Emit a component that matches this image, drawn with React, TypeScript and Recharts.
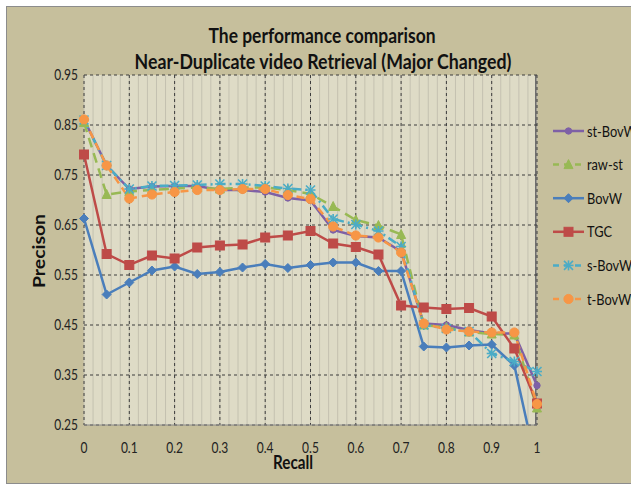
import React from 'react';
import { LineChart, Line, XAxis, YAxis, CartesianGrid } from 'recharts';

const recall = [0, 0.05, 0.1, 0.15, 0.2, 0.25, 0.3, 0.35, 0.4, 0.45, 0.5, 0.55, 0.6, 0.65, 0.7, 0.75, 0.8, 0.85, 0.9, 0.95, 1];
const stBovW = [0.861, 0.769, 0.722, 0.727, 0.728, 0.728, 0.72, 0.72, 0.716, 0.704, 0.699, 0.64, 0.628, 0.625, 0.597, 0.453, 0.45, 0.44, 0.433, 0.433, 0.329];
const rawSt = [0.855, 0.711, 0.717, 0.72, 0.723, 0.725, 0.722, 0.725, 0.725, 0.72, 0.712, 0.687, 0.66, 0.649, 0.631, 0.45, 0.445, 0.436, 0.432, 0.43, 0.284];
const bovw = [0.663, 0.511, 0.535, 0.559, 0.567, 0.552, 0.556, 0.565, 0.572, 0.564, 0.57, 0.575, 0.575, 0.558, 0.558, 0.407, 0.405, 0.409, 0.411, 0.369, 0.164];
const tgc = [0.791, 0.592, 0.57, 0.589, 0.583, 0.605, 0.609, 0.611, 0.625, 0.629, 0.638, 0.613, 0.606, 0.591, 0.489, 0.485, 0.482, 0.484, 0.467, 0.403, 0.293];
const sBovW = [0.86, 0.769, 0.722, 0.728, 0.729, 0.73, 0.732, 0.732, 0.728, 0.723, 0.72, 0.662, 0.651, 0.638, 0.607, 0.45, 0.443, 0.437, 0.393, 0.377, 0.357];
const tBovW = [0.861, 0.769, 0.703, 0.711, 0.716, 0.72, 0.72, 0.722, 0.722, 0.71, 0.702, 0.647, 0.629, 0.625, 0.595, 0.453, 0.441, 0.437, 0.435, 0.435, 0.292];

const xTicks = [0, 0.1, 0.2, 0.3, 0.4, 0.5, 0.6, 0.7, 0.8, 0.9, 1];
const yTicks = [0.25, 0.35, 0.45, 0.55, 0.65, 0.75, 0.85, 0.95];
const minorX = Array.from({ length: 51 }, (_, i) => i * 0.02);

const title1 = 'The performance comparison';
const title2 = 'Near-Duplicate video Retrieval (Major Changed)';
const xLabel = 'Recall';
const yLabel = 'Precison';

const series = [
  { key: 'stBovW', name: 'st-BovW', values: stBovW, color: '#7E60A6', dash: undefined, marker: 'circle' },
  { key: 'rawSt', name: 'raw-st', values: rawSt, color: '#98B954', dash: '10 6', marker: 'triangle' },
  { key: 'bovw', name: 'BovW', values: bovw, color: '#4A7EBB', dash: undefined, marker: 'diamond' },
  { key: 'tgc', name: 'TGC', values: tgc, color: '#BE4B48', dash: undefined, marker: 'square' },
  { key: 'sBovW', name: 's-BovW', values: sBovW, color: '#4BACC6', dash: '9 4 2 4', marker: 'asterisk' },
  { key: 'tBovW', name: 't-BovW', values: tBovW, color: '#F79646', dash: '8 5', marker: 'bigcircle' },
];

const data = recall.map((r, i) => {
  const row: any = { recall: r };
  series.forEach((s) => { row[s.key] = s.values[i]; });
  return row;
});

const FONT = 'Lato, "Noto Sans", sans-serif';
const SQ = 0.8;

function markerShape(shape: string, cx: number, cy: number, color: string, k?: any) {
  switch (shape) {
    case 'circle':
      return <circle key={k} cx={cx} cy={cy} r={3.2} fill={color} stroke={color} />;
    case 'bigcircle':
      return <circle key={k} cx={cx} cy={cy} r={4.6} fill={color} stroke={color} />;
    case 'triangle':
      return <polygon key={k} points={`${cx},${cy - 5} ${cx - 4.5},${cy + 4} ${cx + 4.5},${cy + 4}`} fill={color} stroke={color} />;
    case 'diamond':
      return <polygon key={k} points={`${cx},${cy - 4.5} ${cx + 4.5},${cy} ${cx},${cy + 4.5} ${cx - 4.5},${cy}`} fill={color} stroke={color} />;
    case 'square':
      return <rect key={k} x={cx - 4.5} y={cy - 4.5} width={9} height={9} fill={color} stroke={color} />;
    case 'asterisk':
      return (
        <g key={k} stroke={color} strokeWidth={1.6}>
          <line x1={cx - 4.5} y1={cy - 4.5} x2={cx + 4.5} y2={cy + 4.5} />
          <line x1={cx - 4.5} y1={cy + 4.5} x2={cx + 4.5} y2={cy - 4.5} />
          <line x1={cx} y1={cy - 5} x2={cx} y2={cy + 5} />
          <line x1={cx - 5} y1={cy} x2={cx + 5} y2={cy} />
        </g>
      );
    default:
      return <g key={k} />;
  }
}

function XTick(props: any) {
  const { x, y, payload } = props;
  return (
    <text x={x} y={y} transform={`translate(${x},0) scale(${SQ},1) translate(${-x},0)`} textAnchor="middle" dy="0.71em" fontSize={15} fill="#222" fontFamily={FONT}>
      {String(payload.value)}
    </text>
  );
}

function YTick(props: any) {
  const { x, y, payload } = props;
  return (
    <text x={x} y={y} transform={`translate(${x},0) scale(${SQ},1) translate(${-x},0)`} textAnchor="end" dy="0.35em" fontSize={15} fill="#222" fontFamily={FONT}>
      {String(payload.value)}
    </text>
  );
}

const PLOT_L = 84;
const PLOT_T = 75;
const PLOT_R = 537;
const PLOT_B = 425;

export default function App() {
  return (
    <div style={{ position: 'absolute', left: 0, top: 0, width: 631, height: 484, overflow: 'hidden', fontFamily: FONT }}>
      <div style={{ position: 'absolute', left: 6, top: 6, width: 640, height: 476, background: '#C6BF9C', border: '1px solid #8C8C8C' }} />
      <div style={{ position: 'absolute', left: PLOT_L, top: PLOT_T, width: PLOT_R - PLOT_L, height: PLOT_B - PLOT_T, background: '#DEDBC6', borderRight: '2px solid #6E6E6E', boxSizing: 'border-box' }} />
      <svg width={631} height={484} style={{ position: 'absolute', left: 0, top: 0 }}>
        <text x={322} y={43} textAnchor="middle" fontSize={21} fontWeight="bold" fill="#111" fontFamily={FONT} textLength={227} lengthAdjust="spacingAndGlyphs">{title1}</text>
        <text x={323} y={69} textAnchor="middle" fontSize={21} fontWeight="bold" fill="#111" fontFamily={FONT} textLength={377} lengthAdjust="spacingAndGlyphs">{title2}</text>
        <text x={293} y={469} textAnchor="middle" fontSize={19} fontWeight="bold" fill="#111" fontFamily={FONT} textLength={40} lengthAdjust="spacingAndGlyphs">{xLabel}</text>
        <text x={0} y={0} transform="translate(45,251) rotate(-90)" textAnchor="middle" fontSize={17} fontWeight="bold" fill="#111" fontFamily={FONT} textLength={74} lengthAdjust="spacingAndGlyphs">{yLabel}</text>
      </svg>
      <div style={{ position: 'absolute', left: 0, top: 0 }}>
        <LineChart width={631} height={484} data={data} margin={{ top: PLOT_T, right: 631 - PLOT_R, bottom: 484 - PLOT_B - 30, left: 0 }}>
          <CartesianGrid
            horizontal={false}
            stroke="#C4C1B0"
            strokeWidth={1}
            verticalCoordinatesGenerator={({ offset }: any) => minorX.map((v) => offset.left + v * offset.width)}
          />
          <CartesianGrid stroke="#3C3C3C" strokeDasharray="3 3" strokeWidth={1} />
          <XAxis
            dataKey="recall"
            type="number"
            domain={[0, 1]}
            ticks={xTicks}
            height={30}
            tickSize={0}
            tickMargin={17}
            axisLine={{ stroke: '#8A8A8A' }}
            tick={<XTick />}
          />
          <YAxis
            type="number"
            domain={[0.25, 0.95]}
            allowDataOverflow
            ticks={yTicks}
            width={PLOT_L}
            tickSize={0}
            tickMargin={6}
            axisLine={false}
            tick={<YTick />}
          />
          {series.map((s) => (
            <Line
              key={s.key}
              dataKey={s.key}
              name={s.name}
              stroke={s.color}
              strokeWidth={2.5}
              strokeDasharray={s.dash}
              isAnimationActive={false}
              dot={(p: any) => markerShape(s.marker, p.cx, p.cy, s.color, `${s.key}-${p.index}`)}
              activeDot={false}
            />
          ))}
        </LineChart>
      </div>
      <svg width={100} height={220} style={{ position: 'absolute', left: 548, top: 110 }}>
        {series.map((s, i) => {
          const cy = 21 + i * 33.6;
          return (
            <g key={s.key}>
              <line x1={5} y1={cy} x2={36} y2={cy} stroke={s.color} strokeWidth={2.5} strokeDasharray={s.dash ? '6 5' : undefined} />
              {markerShape(s.marker, 20.5, cy, s.color)}
              <text x={39} y={cy} dy="0.35em" fontSize={16} fill="#111" fontFamily={FONT} transform={`translate(39,0) scale(${SQ},1) translate(-39,0)`}>{s.name}</text>
            </g>
          );
        })}
      </svg>
    </div>
  );
}
